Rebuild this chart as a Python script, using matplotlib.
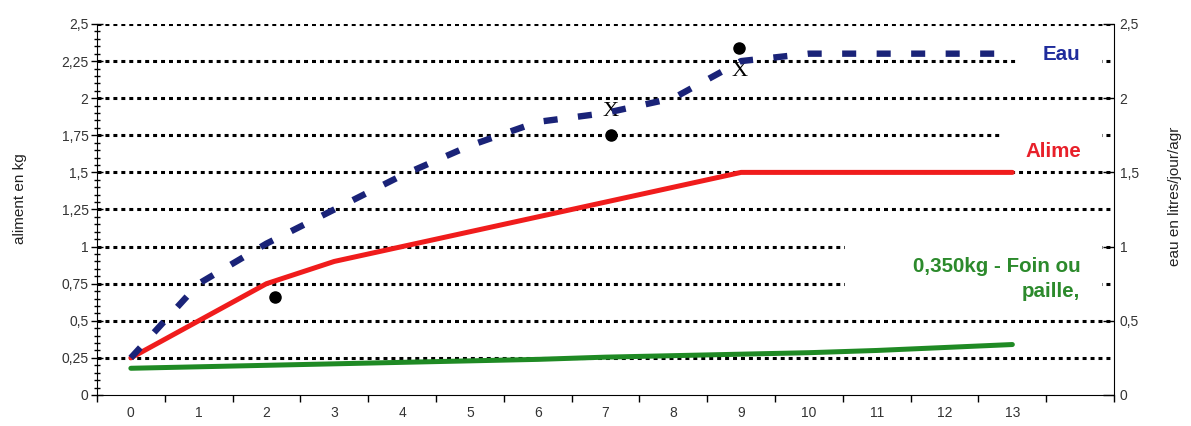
import matplotlib
matplotlib.use("Agg")
from matplotlib import pyplot
from matplotlib.patches import Rectangle
from matplotlib.ticker import MultipleLocator, FixedLocator, FuncFormatter
import numpy

pyplot.rcParams["font.family"] = ["Liberation Sans", "DejaVu Sans"]

# categories on the x axis (last slot is empty)
categories = ["0", "1", "2", "3", "4", "5", "6", "7", "8", "9", "10", "11", "12", "13", ""]
semaines = numpy.arange(14)

eau = [0.25, 0.75, 1.02, 1.25, 1.48, 1.68, 1.84, 1.9, 2.0, 2.25, 2.3, 2.3, 2.3, 2.3]
aliment = [0.25, 0.5, 0.75, 0.9, 1.0, 1.1, 1.2, 1.3, 1.4, 1.5, 1.5, 1.5, 1.5, 1.5]
foin = [0.18, 0.19, 0.2, 0.21, 0.22, 0.23, 0.24, 0.255, 0.265, 0.275, 0.285, 0.3, 0.32, 0.34]

# points et croix notés à la main
points_x = [2.12, 7.08, 8.97]
points_y = [0.66, 1.75, 2.34]
croix_x = [7.08, 8.97]
croix_y = [1.91, 2.18]

virgule = FuncFormatter(lambda v, p: ("%g" % v).replace(".", ","))

fig = pyplot.figure(figsize=(11.91, 4.26), dpi=100)
ax = fig.add_axes([0.0814, 0.0728, 0.854, 0.8709])
ax2 = ax.twinx()

ax.set_xlim(-0.5, len(categories) - 0.5)
ax.set_ylim(0, 2.5)
ax2.set_ylim(0, 2.5)

# pointillés horizontaux
lignes = numpy.arange(0.25, 2.51, 0.25)
ax.hlines(lignes, -0.5, len(categories) - 0.5, colors="black", linewidth=2.2,
          linestyles=(0, (1.3, 1.3)), zorder=1)

# cadres blancs des étiquettes
for x0, y0, w, h in [(10.53, 0.62, 3.79, 0.5), (12.85, 1.56, 1.47, 0.26), (13.05, 2.18, 1.27, 0.27)]:
    ax.add_patch(Rectangle((x0, y0), w, h, facecolor="white", edgecolor="none", zorder=2))

ax.plot(semaines, foin, color="#1f8a24", linewidth=3.6, solid_capstyle="round", zorder=3)
ax.plot(semaines, aliment, color="#f01c1c", linewidth=3.6, solid_capstyle="round", zorder=3)
ax2.plot(semaines, eau, color="#1a2378", linewidth=4.6, linestyle=(0, (2.2, 3.2)), zorder=3)

ax.plot(points_x, points_y, "o", color="black", markersize=8, zorder=4)
for cx, cy in zip(croix_x, croix_y):
    ax.text(cx, cy, "X", fontsize=16, family="Liberation Serif", ha="center", va="center", zorder=4)

ax.text(13.45, 2.295, "Eau", color="#1f2c9c", fontsize=14.8, fontweight="bold", va="center")
ax.text(13.2, 1.64, "Alime", color="#e8202a", fontsize=14.8, fontweight="bold", va="center")
ax.text(14.0, 0.78, "0,350kg - Foin ou\npaille,", color="#2c8a2c", fontsize=14.8,
        fontweight="bold", ha="right", va="center", linespacing=1.4)

# axe x : graduations entre les catégories
ax.xaxis.set_major_locator(FixedLocator(numpy.arange(-0.5, len(categories), 1.0)))
ax.xaxis.set_major_formatter(FuncFormatter(lambda v, p: ""))
ax.xaxis.set_minor_locator(FixedLocator(numpy.arange(len(categories))))
ax.set_xticklabels(categories, minor=True)
ax.tick_params(axis="x", which="major", direction="out", length=5, width=1)
ax.tick_params(axis="x", which="minor", length=0, pad=8, labelsize=10, labelcolor="#333333")

ax.yaxis.set_major_locator(MultipleLocator(0.25))
ax.yaxis.set_minor_locator(MultipleLocator(0.05))
ax.yaxis.set_major_formatter(virgule)
ax.tick_params(axis="y", which="major", direction="inout", length=8, width=1, labelsize=10,
               labelcolor="#333333", pad=2)
ax.tick_params(axis="y", which="minor", direction="inout", length=5, width=1)

ax2.yaxis.set_major_locator(MultipleLocator(0.5))
ax2.yaxis.set_major_formatter(virgule)
ax2.tick_params(axis="y", direction="in", length=8, width=1, labelsize=10,
                labelcolor="#333333", pad=4)

for a in (ax, ax2):
    a.spines["top"].set_visible(False)
    a.set_facecolor("none")
ax2.spines["left"].set_visible(False)
ax2.spines["bottom"].set_visible(False)
ax.spines["right"].set_visible(False)

ax.set_ylabel("aliment en kg", fontsize=11, color="#222222")
ax.yaxis.set_label_coords(-0.069, 0.53)
ax2.set_ylabel("eau en litres/jour/agr", fontsize=11, color="#222222")
ax2.yaxis.set_label_coords(1.053, 0.535)

pyplot.savefig("out.png")
